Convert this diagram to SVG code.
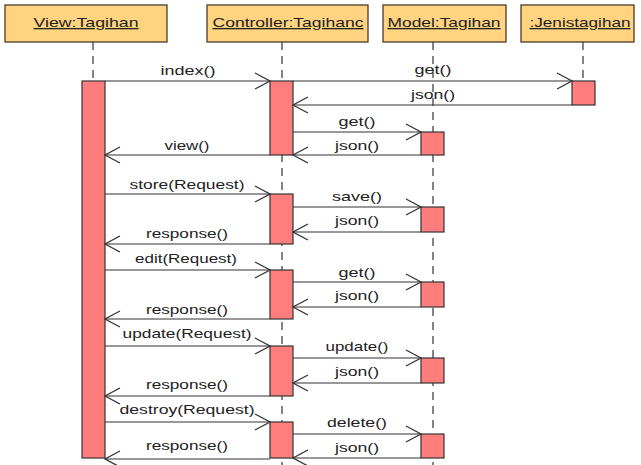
<svg xmlns="http://www.w3.org/2000/svg" width="641" height="465" viewBox="0 0 641 465">
<style>
text{font-family:"Liberation Sans",Arial,sans-serif;font-size:13px;fill:#222;text-anchor:middle}
.hd{fill:#FFD37F;stroke:#4a3b2c;stroke-width:1.3}
.hdt{text-decoration:underline}
.life{stroke:#333;stroke-width:1.2;stroke-dasharray:8,6;fill:none}
.act{fill:#FF7D7D;stroke:#333;stroke-width:1.2}
.msg{stroke:#333;stroke-width:1.2;fill:none;marker-end:url(#open)}
</style>
<defs>
<marker id="open" markerUnits="userSpaceOnUse" markerWidth="20" markerHeight="20" refX="16" refY="9" orient="auto" viewBox="0 0 20 20">
<path d="M1,1 L16,9 L1,17" fill="none" stroke="#333" stroke-width="1.3"/>
</marker>
</defs>
<rect width="641" height="465" fill="#fff"/>
<g id="lifelines">
<line class="life" x1="93" y1="42" x2="93" y2="81"/>
<line class="life" x1="282" y1="42" x2="282" y2="465"/>
<line class="life" x1="433" y1="42" x2="433" y2="465"/>
<line class="life" x1="583" y1="42" x2="583" y2="81"/>
</g>
<g id="view">
<rect class="hd" x="5" y="5" width="162" height="37"/>
<text class="hdt" x="86" y="27" textLength="105" lengthAdjust="spacingAndGlyphs">View:Tagihan</text>
<rect class="act" x="82" y="81" width="23" height="377"/>
</g>
<g id="controller">
<rect class="hd" x="207" y="5" width="161" height="37"/>
<text class="hdt" x="288" y="27" textLength="151" lengthAdjust="spacingAndGlyphs">Controller:Tagihanc</text>
<rect class="act" x="270" y="81" width="23" height="74"/>
<rect class="act" x="270" y="194" width="23" height="50"/>
<rect class="act" x="270" y="270" width="23" height="49"/>
<rect class="act" x="270" y="346" width="23" height="50"/>
<rect class="act" x="270" y="422" width="23" height="36"/>
</g>
<g id="model">
<rect class="hd" x="383" y="5" width="123" height="37"/>
<text class="hdt" x="444" y="27" textLength="113" lengthAdjust="spacingAndGlyphs">Model:Tagihan</text>
<rect class="act" x="421" y="132" width="23" height="23"/>
<rect class="act" x="421" y="207" width="23" height="25"/>
<rect class="act" x="421" y="282" width="23" height="25"/>
<rect class="act" x="421" y="358" width="23" height="25"/>
<rect class="act" x="421" y="434" width="23" height="24"/>
</g>
<g id="jenistagihan">
<rect class="hd" x="521" y="5" width="113" height="37"/>
<text class="hdt" x="580" y="27" textLength="101" lengthAdjust="spacingAndGlyphs">:Jenistagihan</text>
<rect class="act" x="572" y="81" width="23" height="24"/>
</g>
<g id="connectors">
<line class="msg" x1="105" y1="81" x2="270" y2="81"/>
<line class="msg" x1="293" y1="81" x2="572" y2="81"/>
<line class="msg" x1="572" y1="105" x2="293" y2="105"/>
<line class="msg" x1="293" y1="132" x2="421" y2="132"/>
<line class="msg" x1="421" y1="155" x2="293" y2="155"/>
<line class="msg" x1="270" y1="155" x2="105" y2="155"/>
<line class="msg" x1="105" y1="194" x2="270" y2="194"/>
<line class="msg" x1="293" y1="207" x2="421" y2="207"/>
<line class="msg" x1="421" y1="232" x2="293" y2="232"/>
<line class="msg" x1="270" y1="244" x2="105" y2="244"/>
<line class="msg" x1="105" y1="270" x2="270" y2="270"/>
<line class="msg" x1="293" y1="282" x2="421" y2="282"/>
<line class="msg" x1="421" y1="307" x2="293" y2="307"/>
<line class="msg" x1="270" y1="319" x2="105" y2="319"/>
<line class="msg" x1="105" y1="346" x2="270" y2="346"/>
<line class="msg" x1="293" y1="358" x2="421" y2="358"/>
<line class="msg" x1="421" y1="383" x2="293" y2="383"/>
<line class="msg" x1="270" y1="396" x2="105" y2="396"/>
<line class="msg" x1="105" y1="422" x2="270" y2="422"/>
<line class="msg" x1="293" y1="434" x2="421" y2="434"/>
<line class="msg" x1="421" y1="458" x2="293" y2="458"/>
<line class="msg" x1="270" y1="459" x2="105" y2="459"/>
</g>
<g id="labels">
<text x="188" y="75" textLength="55" lengthAdjust="spacingAndGlyphs">index()</text>
<text x="433" y="74" textLength="37" lengthAdjust="spacingAndGlyphs">get()</text>
<text x="433" y="99" textLength="44" lengthAdjust="spacingAndGlyphs">json()</text>
<text x="357" y="126" textLength="37" lengthAdjust="spacingAndGlyphs">get()</text>
<text x="357" y="150" textLength="44" lengthAdjust="spacingAndGlyphs">json()</text>
<text x="187" y="150" textLength="45" lengthAdjust="spacingAndGlyphs">view()</text>
<text x="187" y="189" textLength="115" lengthAdjust="spacingAndGlyphs">store(Request)</text>
<text x="357" y="201" textLength="50" lengthAdjust="spacingAndGlyphs">save()</text>
<text x="357" y="225" textLength="44" lengthAdjust="spacingAndGlyphs">json()</text>
<text x="187" y="238" textLength="82" lengthAdjust="spacingAndGlyphs">response()</text>
<text x="186" y="263" textLength="102" lengthAdjust="spacingAndGlyphs">edit(Request)</text>
<text x="357" y="277" textLength="37" lengthAdjust="spacingAndGlyphs">get()</text>
<text x="357" y="300" textLength="44" lengthAdjust="spacingAndGlyphs">json()</text>
<text x="187" y="314" textLength="82" lengthAdjust="spacingAndGlyphs">response()</text>
<text x="187" y="338" textLength="129" lengthAdjust="spacingAndGlyphs">update(Request)</text>
<text x="357" y="351" textLength="63" lengthAdjust="spacingAndGlyphs">update()</text>
<text x="357" y="376" textLength="44" lengthAdjust="spacingAndGlyphs">json()</text>
<text x="187" y="389" textLength="82" lengthAdjust="spacingAndGlyphs">response()</text>
<text x="187" y="414" textLength="135" lengthAdjust="spacingAndGlyphs">destroy(Request)</text>
<text x="357" y="427" textLength="60" lengthAdjust="spacingAndGlyphs">delete()</text>
<text x="357" y="452" textLength="44" lengthAdjust="spacingAndGlyphs">json()</text>
<text x="187" y="450" textLength="82" lengthAdjust="spacingAndGlyphs">response()</text>
</g>
</svg>
